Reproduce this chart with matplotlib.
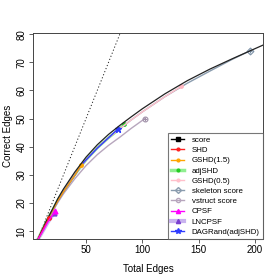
import matplotlib
matplotlib.use('Agg')
import matplotlib.pyplot as plt
from matplotlib.lines import Line2D

plt.rcParams['font.family'] = ['Liberation Sans', 'DejaVu Sans']

# curves: total edges (x) vs correct edges (y)
score_x = [7.5, 10, 15, 20, 25, 30, 40, 50, 60, 70, 80, 90, 100, 120, 140, 160, 180, 207]
score_y = [7.2, 9.5, 13.8, 17.6, 21.6, 25.0, 31.0, 36.3, 40.7, 44.4, 47.6, 50.6, 53.5, 58.8, 63.5, 67.6, 71.3, 76.1]
skel_x = [7.5, 10, 15, 20, 25, 30, 40, 50, 60, 70, 80, 90, 100, 120, 140, 160, 180, 195.6]
skel_y = [7.2, 9.4, 13.5, 17.2, 21.0, 24.3, 30.1, 35.3, 39.6, 43.2, 46.4, 49.5, 52.4, 57.8, 62.6, 66.9, 71.1, 74.1]
vstr_x = [7.5, 10, 15, 20, 25, 30, 40, 50, 60, 70, 80, 90, 102.2]
vstr_y = [7.2, 9.3, 13.2, 16.8, 20.2, 23.3, 28.6, 33.3, 37.2, 40.5, 43.4, 46.5, 50.0]
dagr_x = [7.5, 10, 15, 20, 25, 30, 40, 45.6, 50, 60, 70, 78.3]
dagr_y = [7.2, 9.4, 13.5, 17.2, 20.8, 24.0, 29.8, 33.4, 35.3, 39.5, 43.2, 46.3]
adj_x = [7.5, 10, 15, 20, 25, 30, 40, 50, 60, 70, 80, 83.6]
adj_y = [7.2, 9.4, 13.5, 17.2, 21.0, 24.3, 30.1, 35.3, 39.6, 43.2, 46.4, 48.0]
g15_x = [7.5, 10, 15, 20, 25, 30, 40, 45.6]
g15_y = [7.2, 9.4, 13.5, 17.2, 20.8, 24.0, 29.8, 33.5]
g05_x = [7.5, 10, 15, 20, 25, 30, 40, 50, 60, 70, 80, 90, 100, 120, 134.7]
g05_y = [7.2, 9.4, 13.5, 17.2, 21.0, 24.3, 30.1, 35.3, 39.6, 43.2, 46.4, 49.5, 52.4, 57.8, 61.5]
shd_x = [7.5, 10, 13, 17.3]
shd_y = [7.2, 9.1, 11.6, 14.6]
cpsf_x = [7.5, 10, 13, 16, 19, 22.6]
cpsf_y = [7.2, 8.9, 11.0, 13.2, 15.0, 17.1]
lnc_x = [7.5, 10, 13, 16, 19, 21.5]
lnc_y = [7.2, 8.8, 10.9, 13.0, 14.8, 16.4]

labels = ['score', 'SHD', 'GSHD(1.5)', 'adjSHD', 'GSHD(0.5)', 'skeleton score',
          'vstruct score', 'CPSF', 'LNCPSF', 'DAGRand(adjSHD)']

fig = plt.figure(figsize=(2.8, 2.8), dpi=100)
ax = fig.add_axes([0.118, 0.146, 0.821, 0.736])

ax.plot([0, 90], [0, 90], color='#222222', linestyle=(0, (1.2, 2.2)), lw=0.7)

# (x, y, line color, lw, marker, marker color, marker size)
styles = [
    (lnc_x, lnc_y, '#c9b3ef', 2.5, '^', '#7a3fd0', 3.5),
    (adj_x, adj_y, '#90ee90', 2.0, 'o', '#22cc22', 2.5),
    (vstr_x, vstr_y, '#b7a6bd', 1.0, 'o', '#a090a8', 3.5),
    (skel_x, skel_y, '#8a9cae', 1.0, 'D', '#7f93a8', 3.5),
    (g05_x, g05_y, '#ffc0cb', 1.0, 'o', '#ffb6c1', 2.5),
    (dagr_x, dagr_y, '#2f3cff', 1.0, '*', '#2f3cff', 4.5),
    (g15_x, g15_y, '#ffa500', 1.0, 'o', '#ffa500', 2.5),
    (score_x, score_y, '#222222', 0.9, None, 'black', 3),
    (shd_x, shd_y, '#ff2020', 1.0, 'o', '#ff2020', 2.5),
    (cpsf_x, cpsf_y, '#ff00ff', 1.0, '^', '#ff00ff', 3.5),
]
for x, y, c, lw, m, mc, ms in styles:
    ax.plot(x, y, color=c, lw=lw)
    if m in ('o', 'D') and c in ('#b7a6bd', '#8a9cae'):
        # open symbol with a cross inside
        ax.plot(x[-1:], y[-1:], marker=m, mfc='none', mec=mc, mew=0.8, ms=ms, linestyle='none')
        ax.plot(x[-1:], y[-1:], marker='+', color=mc, mew=0.8, ms=ms, linestyle='none')
    elif m:
        ax.plot(x[-1:], y[-1:], marker=m, color=mc, ms=ms, linestyle='none')

ax.set_xlim(3, 207)
ax.set_ylim(7.2, 80.4)
ax.set_xticks([50, 100, 150, 200])
ax.set_yticks([10, 20, 30, 40, 50, 60, 70, 80])
ax.tick_params(labelsize=7, length=3, width=0.6, color='#444444', pad=1.5)
for lab in ax.get_yticklabels():
    lab.set_rotation(90)
    lab.set_va('center')
for s in ax.spines.values():
    s.set_color('#444444')
    s.set_linewidth(0.7)
ax.set_xlabel('Total Edges', fontsize=7, labelpad=6)
ax.set_ylabel('Correct Edges', fontsize=7, labelpad=3)

handles = [
    Line2D([], [], color='black', lw=1, marker='s', ms=3),
    Line2D([], [], color='#ff2020', lw=1, marker='o', ms=2),
    Line2D([], [], color='#ffa500', lw=1, marker='o', ms=2),
    Line2D([], [], color='#90ee90', lw=2.5, marker='o', ms=2, mfc='#22cc22', mec='#22cc22'),
    Line2D([], [], color='#ffc0cb', lw=1, marker='o', ms=2),
    Line2D([], [], color='#8a9cae', lw=1, marker='D', ms=3, mfc='none'),
    Line2D([], [], color='#b7a6bd', lw=1, marker='o', ms=3, mfc='none'),
    Line2D([], [], color='#ff00ff', lw=1, marker='^', ms=3),
    Line2D([], [], color='#c9b3ef', lw=3, marker='^', ms=3, mfc='#7a3fd0', mec='#7a3fd0'),
    Line2D([], [], color='#2f3cff', lw=1, marker='*', ms=4),
]
leg = ax.legend(handles, labels, loc='lower right', fontsize=5.7, frameon=True,
                fancybox=False, borderaxespad=0, handlelength=1.65,
                handletextpad=0.95, labelspacing=0.34, borderpad=0.4)
leg.get_frame().set_edgecolor('#555555')
leg.get_frame().set_linewidth(0.8)

fig.savefig('out.png', dpi=100)
